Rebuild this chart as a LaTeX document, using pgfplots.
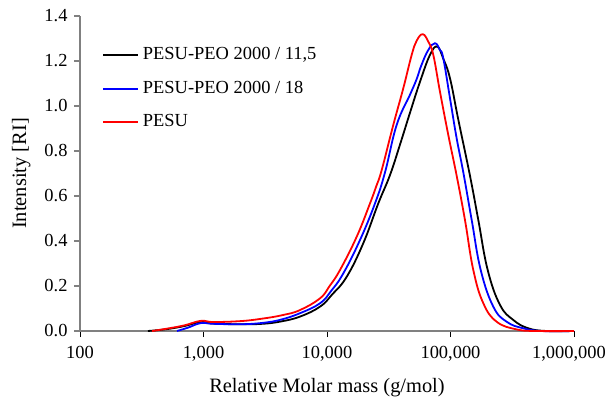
\documentclass[border=0pt]{standalone}
\usepackage{fontspec}
\setmainfont{Liberation Serif}
\usepackage{pgfplots}
\pgfplotsset{compat=1.18}
\definecolor{axgray}{RGB}{128,128,128}
\begin{document}
\begin{tikzpicture}
\begin{axis}[
  name=ax,
  scale only axis,
  width=494bp, height=315bp,
  xmode=log, log basis x=10,
  xmin=100, xmax=1000000,
  ymin=0, ymax=1.4,
  axis lines*=left,
  axis line style={axgray, line width=1.2bp},
  xtick={100,1000,10000,100000,1000000},
  xticklabels={100,{1,000},{10,000},{100,000},{\kern-10bp 1,000,000}},
  ytick={0,0.2,0.4,0.6,0.8,1.0,1.2,1.4},
  yticklabel style={xshift=-3bp, /pgf/number format/.cd,fixed,fixed zerofill,precision=1},
  /pgf/number format/assume math mode=true,
  tick style={black, line width=0.8bp},
  ytick style={axgray, line width=1.2bp},
  xtick align=outside, ytick align=outside,
  major tick length=6bp, minor tick length=4bp,
  tick label style={font=\fontsize{18.5}{22}\selectfont},
  xticklabel style={yshift=-6bp},
  label style={font=\fontsize{20.5}{24}\selectfont},
  xlabel={Relative Molar mass (g/mol)},
  ylabel={Intensity [RI]},
  xlabel style={at={(rel axis cs:0.5,0)}, anchor=base, yshift=-61bp},
  ylabel style={at={(rel axis cs:0,0.5)}, anchor=base, yshift=54bp},
  legend style={draw=none, fill=none, at={(0.0445,0.903)}, anchor=north west,
    inner sep=0pt,
    nodes={inner sep=0pt, text height=13bp, text depth=4bp},
    column sep=4bp,
    font=\fontsize{18.5}{22}\selectfont, row sep=16.5bp, legend cell align=left},
  legend image code/.code={\draw[#1] (0bp,0bp) -- (35bp,0bp);},
  clip=false,
]
\addplot[black, line width=1.8bp, smooth, tension=0.7] coordinates {
(355,0) (500,0.008) (700,0.022) (950,0.04) (1200,0.033) (2000,0.03) (3000,0.032)
(4200,0.042) (6040,0.064) (8770,0.108) (11000,0.162) (14440,0.241) (19670,0.39) (26020,0.567)
(32360,0.693) (38980,0.828) (46980,0.97) (56640,1.108) (68210,1.227) (78130,1.264)
(87420,1.21) (99080,1.123) (115600,0.94) (143800,0.69) (168000,0.493)
(200100,0.271) (251700,0.116) (322600,0.049) (426600,0.012) (600000,0) (1000000,0)};
\addlegendentry{PESU-PEO 2000 / 11,5}
\addplot[blue, line width=1.8bp, smooth, tension=0.7] coordinates {
(610,0) (750,0.015) (950,0.035) (1200,0.032) (2000,0.03) (3000,0.036)
(4200,0.05) (6040,0.079) (8770,0.123) (10800,0.178) (13550,0.256) (18490,0.404) (24470,0.567)
(29490,0.705) (36660,0.916) (46980,1.05) (53240,1.12) (58000,1.18) (66100,1.249)
(74860,1.279) (82150,1.249) (87420,1.212) (99080,1.034) (112200,0.856)
(127000,0.705) (148500,0.493) (175700,0.271) (222200,0.108) (285200,0.041)
(388800,0.012) (550000,0) (1000000,0)};
\addlegendentry{PESU-PEO 2000 / 18}
\addplot[red, line width=1.8bp, smooth, tension=0.7] coordinates {
(383,0) (500,0.01) (700,0.025) (950,0.045) (1200,0.04) (2000,0.044) (3000,0.055)
(4400,0.071) (6040,0.093) (8770,0.145) (10500,0.2) (12740,0.271) (17400,0.419) (22290,0.567)
(25000,0.642) (27720,0.715) (34420,0.916) (41480,1.079) (48500,1.227) (53240,1.29) (59560,1.319)
(66100,1.286) (72570,1.227) (82150,1.064) (95980,0.871) (112200,0.69)
(131000,0.493) (153000,0.271) (184500,0.123) (236700,0.041) (343600,0.007)
(500000,0) (1000000,0)};
\addlegendentry{PESU}
\end{axis}
\pgfresetboundingbox
\path[use as bounding box] ([shift={(-80bp,-66bp)}]ax.south west) rectangle ([shift={(34bp,16bp)}]ax.north east);
\end{tikzpicture}
\end{document}
